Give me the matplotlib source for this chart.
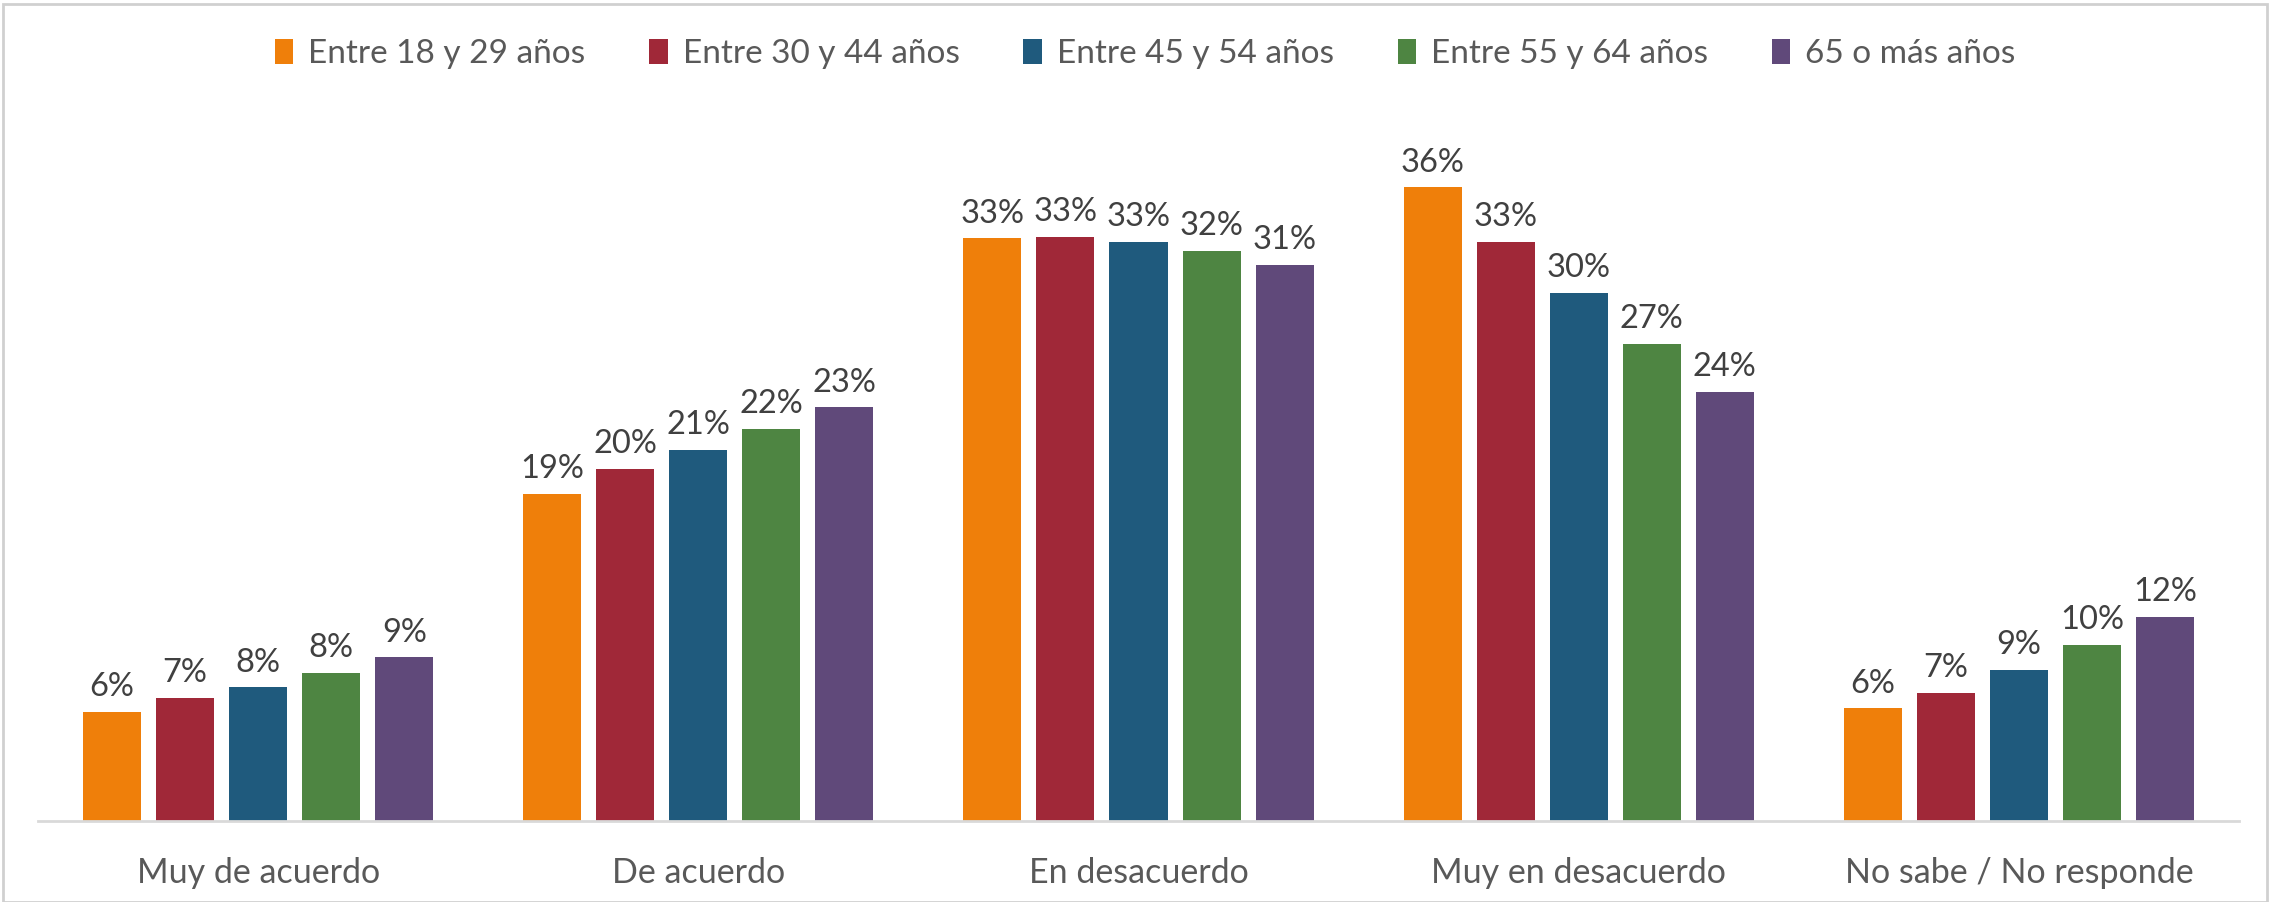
import matplotlib
matplotlib.use("Agg")
import matplotlib.pyplot as plt
import numpy as np
from matplotlib.patches import Rectangle

categories = ["Muy de acuerdo", "De acuerdo", "En desacuerdo", "Muy en desacuerdo", "No sabe / No responde"]
series_names = ["Entre 18 y 29 años", "Entre 30 y 44 años", "Entre 45 y 54 años", "Entre 55 y 64 años", "65 o más años"]

v_18_29 = [6.2, 18.6, 33.1, 36.0, 6.4]
v_30_44 = [7.0, 20.0, 33.2, 32.9, 7.3]
v_45_54 = [7.6, 21.1, 32.9, 30.0, 8.6]
v_55_64 = [8.4, 22.3, 32.4, 27.1, 10.0]
v_65 = [9.3, 23.5, 31.6, 24.4, 11.6]

lab_18_29 = ["6%", "19%", "33%", "36%", "6%"]
lab_30_44 = ["7%", "20%", "33%", "33%", "7%"]
lab_45_54 = ["8%", "21%", "33%", "30%", "9%"]
lab_55_64 = ["8%", "22%", "32%", "27%", "10%"]
lab_65 = ["9%", "23%", "31%", "24%", "12%"]

values = [v_18_29, v_30_44, v_45_54, v_55_64, v_65]
labels = [lab_18_29, lab_30_44, lab_45_54, lab_55_64, lab_65]
colors = ["#EF7F0A", "#A02838", "#1F5A7D", "#4E8542", "#60497A"]

plt.rcParams['font.family'] = ['Lato', 'DejaVu Sans']

fig = plt.figure(figsize=(22.70, 9.02), dpi=100)
ax = fig.add_axes([38/2270, 1-821/902, (2239-38)/2270, (821-117)/902])

x = np.arange(len(categories))
pitch = 0.166
width = 0.132
for i, (vals, labs, col, name) in enumerate(zip(values, labels, colors, series_names)):
    bars = ax.bar(x + (i - 2) * pitch, vals, width=width, color=col, label=name, zorder=2)
    ax.bar_label(bars, labels=labs, padding=7, fontsize=23.5, color="#404040")

ax.set_xlim(-0.5, 4.5)
ax.set_ylim(0, 40)
ax.set_yticks([])
ax.set_xticks(x)
ax.set_xticklabels(categories, fontsize=24.5, color="#595959")
ax.tick_params(axis='x', length=0, pad=26)
for s in ["top", "right", "left"]:
    ax.spines[s].set_visible(False)
ax.spines["bottom"].set_color("#D9D9D9")
ax.spines["bottom"].set_linewidth(2)

leg = fig.legend(loc="center", bbox_to_anchor=(0.5045, 1-54/902), ncol=5, frameon=False,
                 fontsize=24, handlelength=0.55, handleheight=0.8, handletextpad=0.45,
                 columnspacing=1.92)
for t in leg.get_texts():
    t.set_color("#595959")

fig.patches.append(Rectangle((0.0015, 0.0), 0.997, 0.996, transform=fig.transFigure,
                             fill=False, edgecolor="#D0D0D0", linewidth=2))

fig.savefig("out.png", dpi=100, facecolor="white")
